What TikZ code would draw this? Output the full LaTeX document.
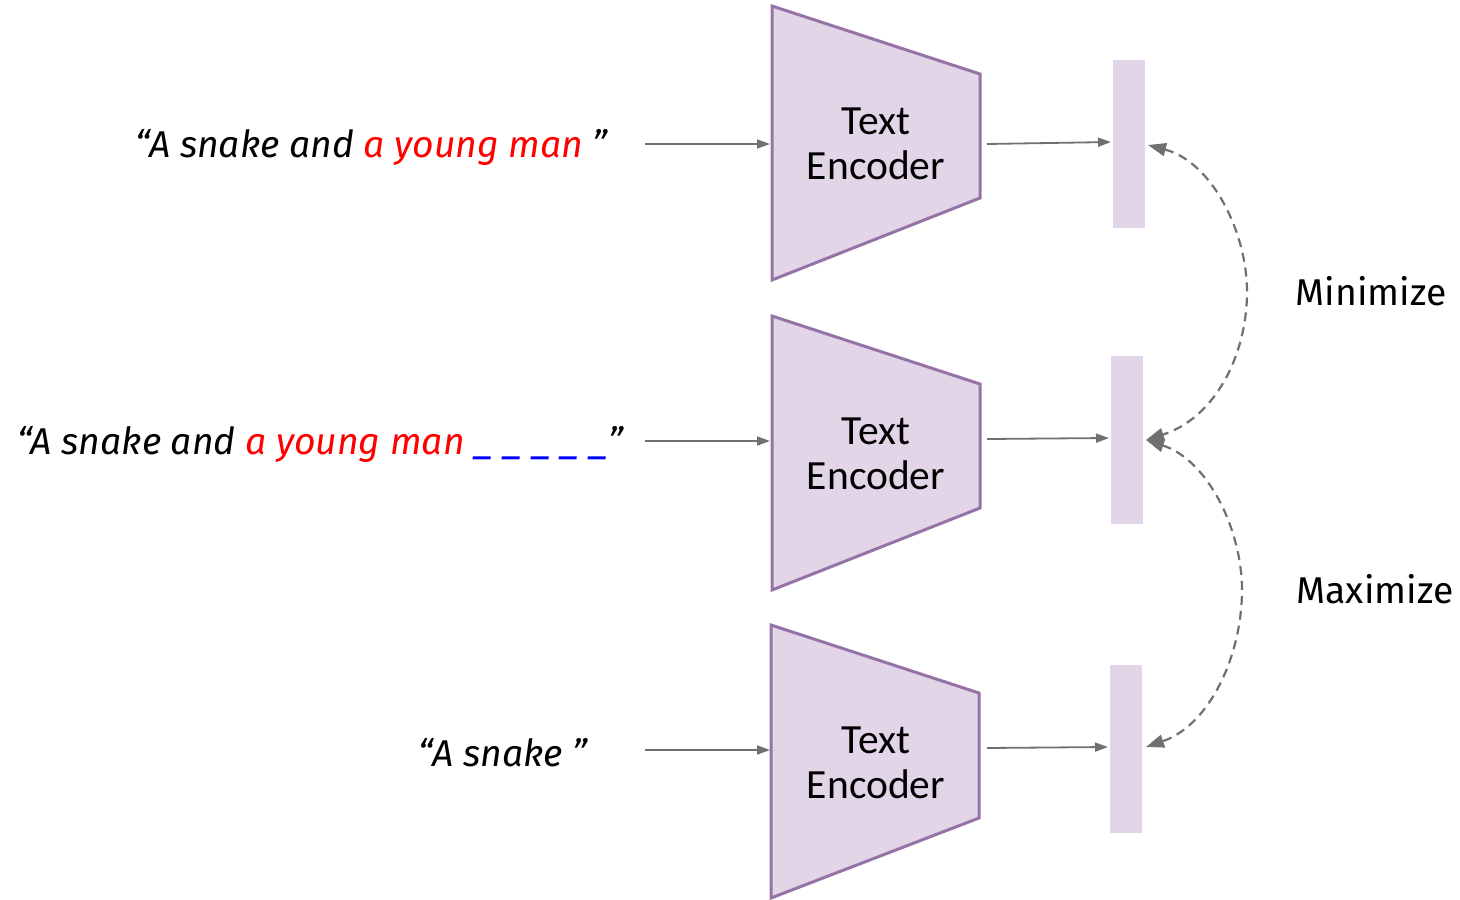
\documentclass[tikz,border=0pt]{standalone}
\usepackage{fontspec}
\setmainfont{Fira Sans}
\newfontfamily\calib{Carlito}
\usetikzlibrary{arrows.meta}
\definecolor{encfill}{HTML}{E1D5E7}
\definecolor{encdraw}{HTML}{9673A6}
\definecolor{arrgray}{HTML}{707070}
\tikzset{
  encshape/.style={fill=encfill, draw=encdraw, line width=3pt, line join=miter},
  enctext/.style={font=\calib\fontsize{41.5}{45}\selectfont, align=center, inner sep=0pt},
  quote/.style={font=\itshape\fontsize{37.3}{40}\selectfont, anchor=east, inner sep=0pt},
  lbl/.style={font=\fontsize{37.3}{40}\selectfont, inner sep=0pt},
  bar/.style={fill=encfill, draw=none, minimum width=32pt, minimum height=168pt, inner sep=0pt},
  arr/.style={draw=arrgray, line width=1.8pt, -{Triangle[length=13pt,width=9pt]}},
  dasharr/.style={draw=arrgray, line width=2.2pt, dash pattern=on 9pt off 6pt,
    {Triangle[length=18pt,width=13pt]}-{Triangle[length=18pt,width=13pt]}}
}
\begin{document}
\begin{tikzpicture}[x=1pt,y=-1pt]
\useasboundingbox (0,0) rectangle (1460,900);
% encoders
\draw[encshape] (772,6) -- (980,74) -- (980,198) -- (772,280) -- cycle;
\draw[encshape] (772,316) -- (980,384) -- (980,508) -- (772,590) -- cycle;
\draw[encshape] (771,625) -- (979,693) -- (979,818) -- (771,898) -- cycle;
\node[enctext] (enc1) at (876,144) {Text\\Encoder};
\node[enctext] (enc2) at (876,454) {Text\\Encoder};
\node[enctext] (enc3) at (876,763) {Text\\Encoder};
% quotes
\node[quote] (q1) at (608,147) {“A snake and \textcolor{red}{a young man} ”};
\node[quote] (q2) at (624,444) {“A snake and \textcolor{red}{a young man} \textcolor{blue}{\_ \_ \_ \_ \_}”};
\node[quote] (q3) at (588,753) {“A snake ”};
% bars
\node[bar] (b1) at (1129,144) {};
\node[bar] (b2) at (1127,440) {};
\node[bar] (b3) at (1126,749) {};
% coordinates
\coordinate (i1) at (645,144); \coordinate (e1in) at (770,144);
\coordinate (i2) at (645,441); \coordinate (e2in) at (770,441);
\coordinate (i3) at (645,750); \coordinate (e3in) at (770,750);
\coordinate (o1) at (987,144); \coordinate (t1) at (1111,142);
\coordinate (o2) at (987,439); \coordinate (t2) at (1109,438);
\coordinate (o3) at (987,748); \coordinate (t3) at (1108,747);
\coordinate (d1) at (1148,145);
\coordinate (d2) at (1146,440);
\coordinate (d3) at (1146,747);
% arrows
\draw[arr] (i1) -- (e1in);
\draw[arr] (i2) -- (e2in);
\draw[arr] (i3) -- (e3in);
\draw[arr] (o1) -- (t1);
\draw[arr] (o2) -- (t2);
\draw[arr] (o3) -- (t3);
\draw[dasharr] (d1) .. controls (1212,162) and (1247,232) .. (1247,292) .. controls (1247,355) and (1215,418) .. (d2);
\draw[dasharr] (d2) .. controls (1208,460) and (1242,530) .. (1242,590) .. controls (1242,655) and (1210,725) .. (d3);
% labels
\node[lbl] (mn) at (1371,291) {Minimize};
\node[lbl] (mx) at (1375,589) {Maximize};
\end{tikzpicture}
\end{document}
